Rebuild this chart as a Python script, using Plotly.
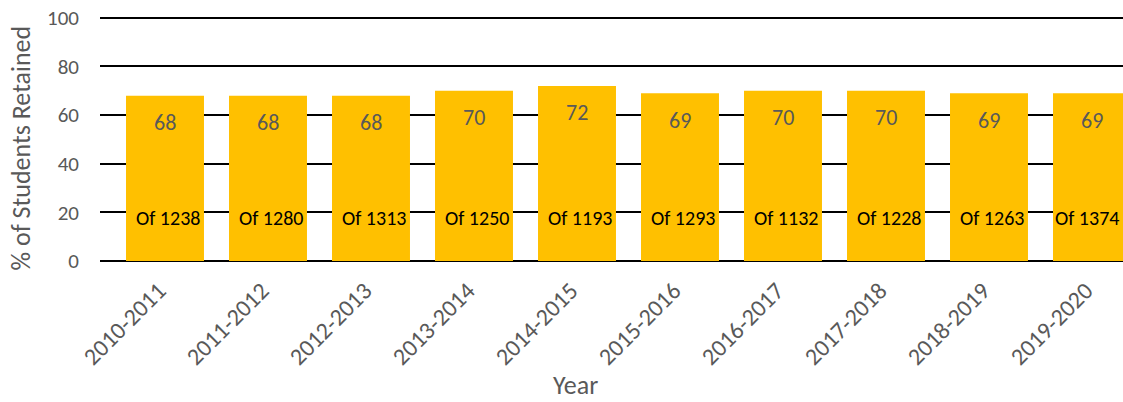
import plotly.graph_objects as go

years = ["2010-2011", "2011-2012", "2012-2013", "2013-2014", "2014-2015",
         "2015-2016", "2016-2017", "2017-2018", "2018-2019", "2019-2020"]
retained = [68, 68, 68, 70, 72, 69, 70, 70, 69, 69]
cohort = [1238, 1280, 1313, 1250, 1193, 1293, 1132, 1228, 1263, 1374]

FONT = "Carlito, Lato, 'Open Sans', sans-serif"
GREY = "#595959"

xs = list(range(len(years)))

fig = go.Figure()
fig.add_trace(go.Bar(
    x=xs, y=retained,
    marker=dict(color="#FFC000", line=dict(width=0)),
    width=0.757,
    hoverinfo="skip",
))

# value labels near the top of each bar
for i, v in zip(xs, retained):
    fig.add_annotation(x=i, y=v, xref="x", yref="y", yanchor="middle",
                       yshift=-27, text=str(v), showarrow=False,
                       font=dict(family=FONT, size=22, color=GREY))

# cohort labels
for i, n in zip(xs, cohort):
    fig.add_annotation(x=min(i + 0.03, 8.95), y=17.7, xref="x", yref="y",
                       yanchor="middle",
                       text=f"Of {n}", showarrow=False,
                       font=dict(family=FONT, size=20, color="black"))

fig.add_annotation(x=0.465, y=-0.50, xref="paper", yref="paper",
                   xanchor="center", yanchor="middle",
                   text="Year", showarrow=False,
                   font=dict(family=FONT, size=26, color=GREY))
fig.add_annotation(x=-0.077, y=0.455, xref="paper", yref="paper",
                   xanchor="center", yanchor="middle",
                   text="% of Students Retained", showarrow=False, textangle=-90,
                   font=dict(family=FONT, size=26, color=GREY))

fig.update_layout(
    width=1123, height=402,
    margin=dict(l=100, r=0, t=13, b=141, pad=0),
    plot_bgcolor="white", paper_bgcolor="white",
    showlegend=False,
    xaxis=dict(
        range=[-0.631, 9.301],
        tickmode="array", tickvals=[i - 0.06 for i in xs], ticktext=years,
        tickangle=-45,
        tickfont=dict(family=FONT, size=24, color=GREY),
        showgrid=False, zeroline=False, showline=False,
        ticks="", ticklabelstandoff=10,
    ),
    yaxis=dict(
        range=[0, 102], tickmode="array", tickvals=[0, 20, 40, 60, 80, 100],
        tickfont=dict(family=FONT, size=21, color=GREY),
        showgrid=True, gridcolor="black", gridwidth=1.6,
        zeroline=True, zerolinecolor="black", zerolinewidth=1.6,
        showline=False, ticks="", ticklabelstandoff=20,
        ticklabeloverflow="allow",
    ),
)

fig.write_html("out.html", config={"displayModeBar": False},
               post_script="document.body.style.margin='0px';")
